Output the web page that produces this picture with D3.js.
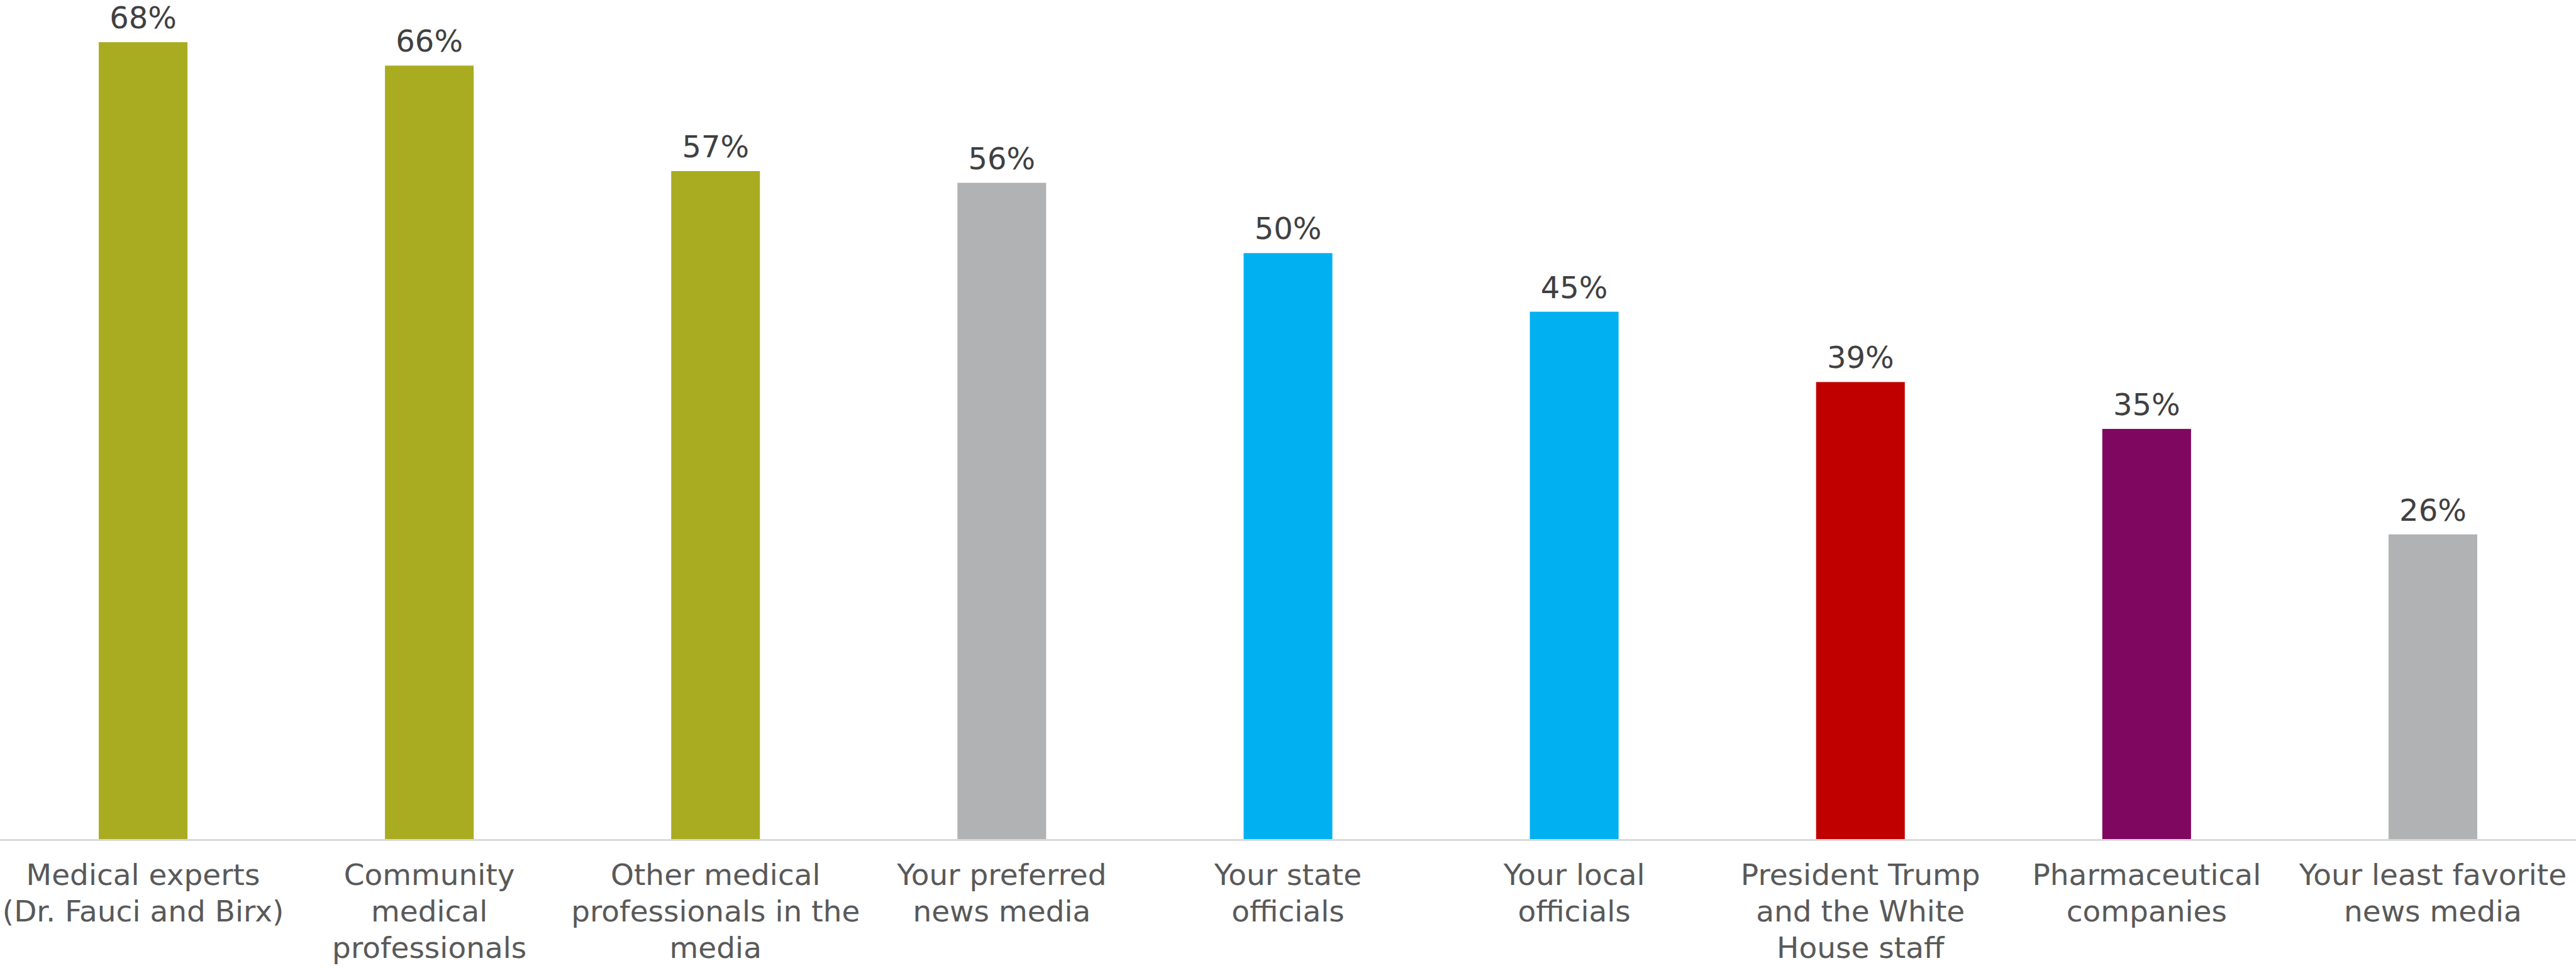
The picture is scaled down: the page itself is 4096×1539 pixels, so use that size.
<!DOCTYPE html>
<html>
<head>
<meta charset="utf-8">
<script src="https://cdn.jsdelivr.net/npm/d3@7"></script>
<style>
  html, body { margin: 0; padding: 0; background: #ffffff; }
  svg { display: block; }
</style>
</head>
<body>
<svg id="chart" width="4096" height="1539"></svg>
<script>
// Trust in sources of information, share of respondents
const categories = [
  "Medical experts (Dr. Fauci and Birx)",
  "Community medical professionals",
  "Other medical professionals in the media",
  "Your preferred news media",
  "Your state officials",
  "Your local officials",
  "President Trump and the White House staff",
  "Pharmaceutical companies",
  "Your least favorite news media"
];
const categoryLines = [
  ["Medical experts", "(Dr. Fauci and Birx)"],
  ["Community", "medical", "professionals"],
  ["Other medical", "professionals in the", "media"],
  ["Your preferred", "news media"],
  ["Your state", "officials"],
  ["Your local", "officials"],
  ["President Trump", "and the White", "House staff"],
  ["Pharmaceutical", "companies"],
  ["Your least favorite", "news media"]
];
const values = [68, 66, 57, 56, 50, 45, 39, 35, 26];
const barColors = ["#A9AC20", "#A9AC20", "#A9AC20", "#B1B2B4", "#00B0F0", "#00B0F0", "#C00000", "#7F0760", "#B1B2B4"];

const W = 4096, H = 1539;
const baseY = 1334;
const fontStack = "'Century Gothic', 'URW Gothic', 'URW Gothic L', 'DejaVu Sans', sans-serif";

const svg = d3.select("#chart");

const x = d3.scaleBand()
  .domain(categories)
  .range([0, W])
  .paddingInner(0.69)
  .paddingOuter(0.345);

const y = d3.scaleLinear()
  .domain([0, 71.6])
  .range([baseY, 0]);

// bars
svg.append("g")
  .selectAll("rect")
  .data(values)
  .join("rect")
  .attr("x", (d, i) => x(categories[i]))
  .attr("y", d => y(d))
  .attr("width", x.bandwidth())
  .attr("height", d => y(0) - y(d))
  .attr("fill", (d, i) => barColors[i]);

// baseline axis
const axis = svg.append("g")
  .attr("transform", `translate(0,${baseY})`)
  .call(d3.axisBottom(x).tickSize(0).tickFormat(""));
axis.select(".domain")
  .attr("stroke", "#D9D9D9")
  .attr("stroke-width", 3)
  .attr("d", `M0,1.5H${W}`);

// category labels, wrapped onto lines
const labels = svg.append("g")
  .selectAll("text")
  .data(categories)
  .join("text")
  .attr("text-anchor", "middle")
  .attr("font-family", fontStack)
  .attr("font-size", 47)
  .attr("fill", "#595959")
  .attr("transform", d => `translate(${x(d) + x.bandwidth() / 2},${baseY + 73})`);
labels.each(function(d, i) {
  d3.select(this).selectAll("tspan")
    .data(categoryLines[i])
    .join("tspan")
    .attr("x", 0)
    .attr("y", (t, j) => j * 58)
    .text(t => t);
});

// value labels
svg.append("g")
  .selectAll("text")
  .data(values)
  .join("text")
  .attr("x", (d, i) => x(categories[i]) + x.bandwidth() / 2)
  .attr("y", d => y(d) - 22)
  .attr("text-anchor", "middle")
  .attr("font-family", fontStack)
  .attr("font-size", 48)
  .attr("fill", "#404040")
  .text(d => d + "%");
</script>
</body>
</html>
